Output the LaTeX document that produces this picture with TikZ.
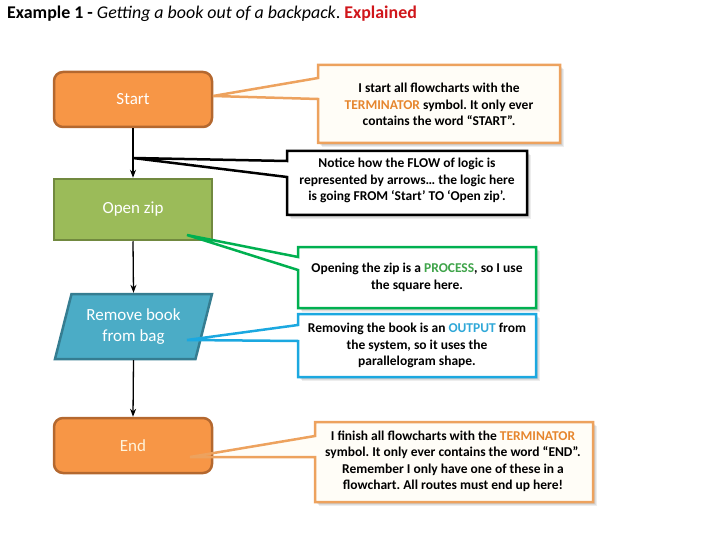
\documentclass[tikz,border=0pt]{standalone}
\usepackage{fontspec}
\setmainfont{Carlito}
\usetikzlibrary{backgrounds,arrows.meta}
\frenchspacing
\definecolor{orfill}{HTML}{F79646}
\definecolor{ordraw}{HTML}{B4682F}
\definecolor{grfill}{HTML}{9BBB59}
\definecolor{grdraw}{HTML}{71893F}
\definecolor{blfill}{HTML}{4BACC6}
\definecolor{bldraw}{HTML}{357D91}
\definecolor{coorange}{HTML}{EDA25E}
\definecolor{cogreen}{HTML}{00B050}
\definecolor{coblue}{HTML}{1BA8E0}
\definecolor{termtxt}{HTML}{E6862E}
\definecolor{proctxt}{HTML}{3FA44A}
\definecolor{outtxt}{HTML}{2FA8D8}
\definecolor{titred}{HTML}{D0161B}
\definecolor{cream}{HTML}{FFFDF7}
\definecolor{endtxt}{HTML}{FFF4DC}
\newcommand\boxfont{\fontsize{17}{21}\selectfont}
\newcommand\cofont{\bfseries\fontsize{13.5}{16.5}\selectfont}
% #1 options, #2 tip, #3 L, #4 T, #5 R, #6 B, #7 base top, #8 base bottom
\newcommand\coshape[8]{%
  \path[#1] (#2) -- (#3,#7) -- (#3,#4) -- (#5,#4) -- (#5,#6) -- (#3,#6) -- (#3,#8) -- cycle;}
\newcommand\coshadow[4]{%
  \foreach \d in {1,2,3,4} {\fill[black,opacity=0.07] (#1+\d,#2+\d) rectangle (#3+\d,#4+\d);}}
\begin{document}
\begin{tikzpicture}[x=1pt,y=-1pt,line join=miter,
  term/.style={rectangle, rounded corners=9pt, fill=orfill, draw=ordraw, line width=2.5pt,
    minimum width=158pt, minimum height=55pt, text=white, font=\boxfont},
  proc/.style={rectangle, fill=grfill, draw=grdraw, line width=2.5pt,
    minimum width=158pt, minimum height=61pt, text=white, font=\boxfont},
  iotext/.style={text=white, font=\boxfont, align=center, minimum width=160pt,
    minimum height=67pt, inner sep=0pt},
  iobox/.style={fill=blfill, draw=bldraw, line width=2.5pt},
  flow/.style={line width=1.3pt, -{Stealth[length=8pt,width=6pt]}},
  cobox/.style={line width=2.5pt},
  cotext/.style={font=\cofont, align=center, text=black, inner sep=0pt}]
\useasboundingbox (0,0) rectangle (720,540);

% title
\node[anchor=base west, inner sep=0pt, font=\fontsize{17.9}{21}\selectfont] (title) at (7,19)
  {\textbf{Example 1 -} \textit{Getting a book out of a backpack}. \textbf{\color{titred}Explained}};

% pointer tips
\coordinate (t1) at (213,96);
\coordinate (t2) at (133,158);
\coordinate (t3) at (187,235);
\coordinate (t4) at (187,340);
\coordinate (t5) at (190,457);

% callout fills and shadows
\begin{scope}[on background layer]
  \coshadow{318}{65}{560}{143}
  \coshadow{287}{151}{527}{215}
  \coshadow{298}{247}{536}{308}
  \coshadow{298}{314}{536}{377}
  \coshadow{315}{422}{593}{502}
  \coshape{fill=cream}{t1}{318}{65}{560}{143}{78}{99}
  \coshape{fill=white}{t2}{287}{151}{527}{215}{161}{177}
  \coshape{fill=white}{t3}{298}{247}{536}{308}{257}{270}
  \coshape{fill=white}{t4}{298}{314}{536}{377}{325}{341}
  \coshape{fill=cream}{t5}{315}{422}{593}{502}{436}{457}
\end{scope}

% flowchart
\node[term] (start) at (133,99.5) {Start};
\node[proc] (zip) at (133,209.5) {Open zip};
\path[iobox] (71.5,294) -- (212,294) -- (195.5,359) -- (55,359) -- cycle;
\node[iotext] (rb) at (133.5,326.5) {Remove book\\from bag};
\node[term, text=endtxt] (end) at (133,445.5) {End};

\draw[flow] (start.south) -- (zip.north);
\draw[flow] (zip.south) -- (rb.north);
\draw[flow] (rb.south) -- (end.north);

% callout outlines
\coshape{draw=coorange,cobox}{t1}{318}{65}{560}{143}{78}{99}
\coshape{draw=black,cobox}{t2}{287}{151}{527}{215}{161}{177}
\coshape{draw=cogreen,cobox}{t3}{298}{247}{536}{308}{257}{270}
\coshape{draw=coblue,cobox}{t4}{298}{314}{536}{377}{325}{341}
\coshape{draw=coorange,cobox}{t5}{315}{422}{593}{502}{436}{457}

% callout texts
\node[cotext] (c1) at (439,104.5) {I start all flowcharts with the\\
  {\color{termtxt}TERMINATOR} symbol. It only ever\\contains the word “START”.};
\node[cotext] (c2) at (407,180.5) {Notice how the FLOW of logic is\\
  represented by arrows… the logic here\\is going FROM ‘Start’ TO ‘Open zip’.};
\node[cotext] (c3) at (417,277.5) {Opening the zip is a {\color{proctxt}PROCESS}, so I use\\the square here.};
\node[cotext] (c4) at (417,345.5) {Removing the book is an {\color{outtxt}OUTPUT} from\\
  the system, so it uses the\\parallelogram shape.};
\node[cotext] (c5) at (453,461.5) {I finish all flowcharts with the {\color{termtxt}TERMINATOR}\\
  symbol. It only ever contains the word “END”.\\Remember I only have one of these in a\\
  flowchart. All routes must end up here!};
\end{tikzpicture}
\end{document}
